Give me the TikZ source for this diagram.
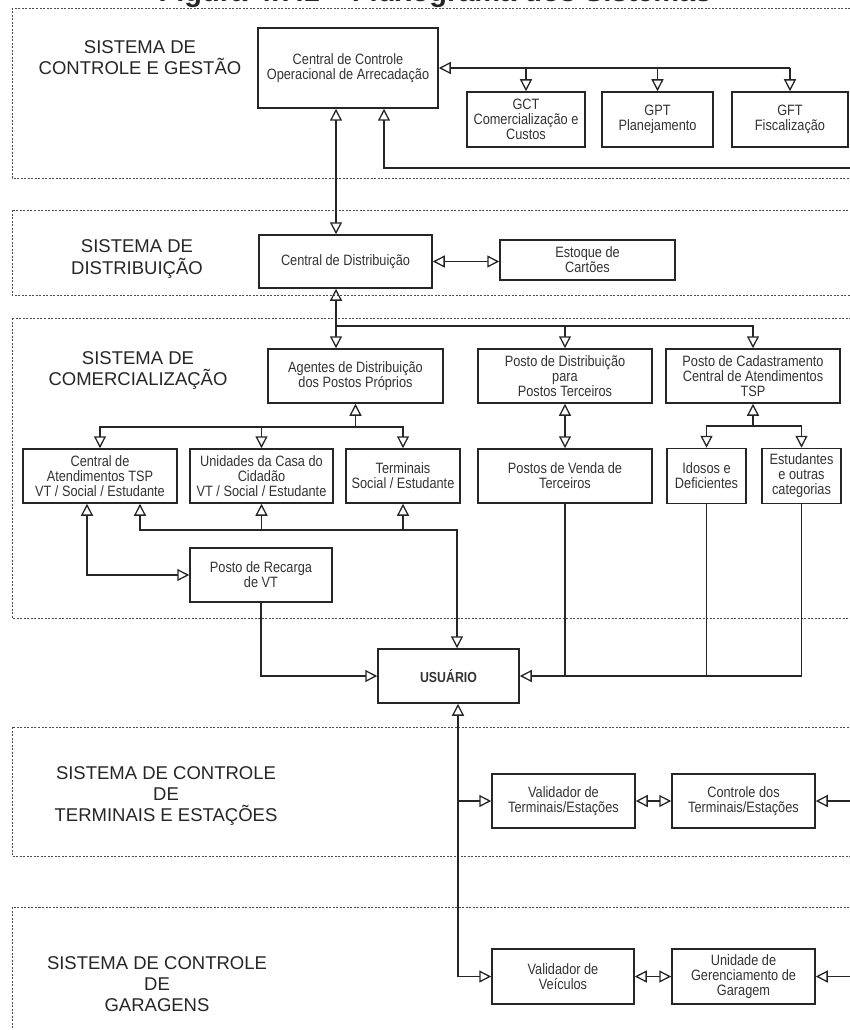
\documentclass[tikz,border=0pt]{standalone}
\usepackage{fontspec}
\setmainfont{Liberation Sans}
\newfontfamily\caixafont[FakeStretch=0.85]{Liberation Sans}
\usetikzlibrary{arrows.meta}
\begin{document}
\begin{tikzpicture}[x=1pt, y=-1pt]
      \tikzset{
	  caixa/.style={rectangle, draw=black!85, line width=1.5pt, inner sep=0pt, align=center, text=black!80, font=\caixafont\fontsize{15}{15}\selectfont},
	  rotulo/.style={align=center, text=black!85, font=\fontsize{18.5}{21}\selectfont},
	  moldura/.style={draw=black!70, line width=0.9pt, dash pattern=on 2pt off 1.5pt},
	  linha/.style={draw=black!85, line width=1.3pt},
	  seta/.style={linha, -{Triangle[open, length=12pt, width=12pt]}},
	  dupla/.style={linha, {Triangle[open, length=12pt, width=12pt]}-{Triangle[open, length=12pt, width=12pt]}}
      }
      \useasboundingbox (0,0) rectangle (850,1030);
      \clip (0,0) rectangle (850,1030);

      % titulo (cortado no topo)
      \node[anchor=base, text=black!85, font=\bfseries\fontsize{29}{30}\selectfont] (titulo) at (435,1.5) {Figura 4.7.1 -- Fluxograma dos Sistemas};

      % molduras dos sistemas
      \draw[moldura] (12,8) rectangle (870,178);
      \draw[moldura] (12,210) rectangle (870,295);
      \draw[moldura] (12,318) rectangle (870,618);
      \draw[moldura] (12,727) rectangle (870,856);
      \draw[moldura] (12,907) rectangle (870,1045);

      \node[rotulo] (lgestao) at (140,58) {SISTEMA DE\\CONTROLE E GESTÃO};
      \node[rotulo] (ldistrib) at (137,259) {SISTEMA DE\\DISTRIBUIÇÃO};
      \node[rotulo] (lcomerc) at (138,370) {SISTEMA DE\\COMERCIALIZAÇÃO};
      \node[rotulo] (lterminais) at (166,796) {SISTEMA DE CONTROLE\\DE\\TERMINAIS E ESTAÇÕES};
      \node[rotulo] (lgaragens) at (157,984) {SISTEMA DE CONTROLE\\DE\\GARAGENS};

      % controle e gestao
      \node[caixa, minimum width=180pt, minimum height=80pt] (ccoa) at (348,68) {Central de Controle\\Operacional de Arrecadação};
      \node[caixa, minimum width=118pt, minimum height=55pt] (gct) at (526,119.5) {GCT\\Comercialização e\\Custos};
      \node[caixa, minimum width=111pt, minimum height=55pt] (gpt) at (657.5,119.5) {GPT\\Planejamento};
      \node[caixa, minimum width=116pt, minimum height=55pt] (gft) at (790,119.5) {GFT\\Fiscalização};

      % distribuicao
      \node[caixa, minimum width=173pt, minimum height=53pt] (cdist) at (345.5,261.5) {Central de Distribuição};
      \node[caixa, minimum width=175pt, minimum height=40pt] (estoque) at (587.5,260) {Estoque de\\Cartões};

      % comercializacao
      \node[caixa, minimum width=175pt, minimum height=54pt] (agentes) at (355.5,376) {Agentes de Distribuição\\dos Postos Próprios};
      \node[caixa, minimum width=174pt, minimum height=54pt] (pdist) at (565,376) {Posto de Distribuição\\para\\Postos Terceiros};
      \node[caixa, minimum width=174pt, minimum height=54pt] (pcad) at (753,376) {Posto de Cadastramento\\Central de Atendimentos\\TSP};
      \node[caixa, minimum width=154pt, minimum height=54pt] (catend) at (100,476) {Central de\\Atendimentos TSP\\VT / Social / Estudante};
      \node[caixa, minimum width=143pt, minimum height=54pt] (unid) at (261.5,476) {Unidades da Casa do\\Cidadão\\VT / Social / Estudante};
      \node[caixa, minimum width=114pt, minimum height=54pt] (term) at (403,476) {Terminais\\Social / Estudante};
      \node[caixa, minimum width=174pt, minimum height=54pt] (pvenda) at (565,476) {Postos de Venda de\\Terceiros};
      \node[caixa, minimum width=79pt, minimum height=55pt] (idosos) at (706.5,476) {Idosos e\\Deficientes};
      \node[caixa, minimum width=79pt, minimum height=55pt] (estud) at (801.5,476) {Estudantes\\e outras\\categorias};
      \node[caixa, minimum width=142pt, minimum height=54pt] (recarga) at (261,575) {Posto de Recarga\\de VT};

      \node[caixa, minimum width=141pt, minimum height=54pt, font=\caixafont\bfseries\fontsize{14.5}{15}\selectfont] (usuario) at (448.5,676) {USUÁRIO};

      % terminais e garagens
      \node[caixa, minimum width=143pt, minimum height=54pt] (valterm) at (563.5,801) {Validador de\\Terminais/Estações};
      \node[caixa, minimum width=143pt, minimum height=54pt] (ctrlterm) at (743.5,801) {Controle dos\\Terminais/Estações};
      \node[caixa, minimum width=142pt, minimum height=55pt] (valveic) at (563,976.5) {Validador de\\Veículos};
      \node[caixa, minimum width=143pt, minimum height=55pt] (ugar) at (743.5,976.5) {Unidade de\\Gerenciamento de\\Garagem};

      \coordinate (retorno) at (860,168);
      \coordinate (barra) at (336,326);
      \coordinate (ramo1) at (355.5,427);
      \coordinate (ramo2) at (753,426);
      \coordinate (elo) at (457,530);
      \coordinate (entrada1) at (860,801);
      \coordinate (entrada2) at (860,976.5);

      % ligacoes
      \draw[seta] (gft.north |- ccoa.east) -- (ccoa.east);
      \draw[seta] (gct.north |- ccoa.east) -- (gct.north);
      \draw[seta] (gpt.north |- ccoa.east) -- (gpt.north);
      \draw[seta] (gft.north |- ccoa.east) -- (gft.north);
      \draw[seta] (retorno) -| ([xshift=36pt]ccoa.south);
      \draw[dupla] ([xshift=-12pt]ccoa.south) -- ([xshift=-12pt]ccoa.south |- cdist.north);
      \draw[dupla] (cdist.east) -- (cdist.east -| estoque.west);

      \draw[dupla] (barra |- cdist.south) -- (barra |- agentes.north);
      \draw[seta] (barra) -| (pdist.north);
      \draw[seta] (barra) -| (pcad.north);

      \draw[seta] (ramo1) -- (agentes.south);
      \draw[seta] (ramo1) -| (catend.north);
      \draw[seta] (ramo1) -| (unid.north);
      \draw[seta] (ramo1) -| (term.north);
      \draw[dupla] (pdist.south) -- (pvenda.north);
      \draw[seta] (ramo2) -- (pcad.south);
      \draw[seta] (ramo2) -| (idosos.north);
      \draw[seta] (ramo2) -| (estud.north);

      \draw[dupla] ([xshift=-13pt]catend.south) |- (recarga.west);
      \draw[dupla] ([xshift=40pt]catend.south) |- (elo) -- (elo |- usuario.north);
      \draw[seta] (unid.south |- elo) -- (unid.south);
      \draw[seta] (term.south |- elo) -- (term.south);

      \draw[seta] (recarga.south) |- (usuario.west);
      \draw[seta] (estud.south) |- (usuario.east);
      \draw[linha] (pvenda.south) -- (pvenda.south |- usuario.east);
      \draw[linha] (idosos.south) -- (idosos.south |- usuario.east);

      \draw[dupla] ([xshift=9.5pt]usuario.south) |- (valveic.west);
      \draw[seta] ([xshift=9.5pt]usuario.south |- valterm.west) -- (valterm.west);
      \draw[dupla] (valterm.east) -- (ctrlterm.west);
      \draw[dupla] (valveic.east) -- (ugar.west);
      \draw[seta] (entrada1) -- (ctrlterm.east);
      \draw[seta] (entrada2) -- (ugar.east);
\end{tikzpicture}
\end{document}
